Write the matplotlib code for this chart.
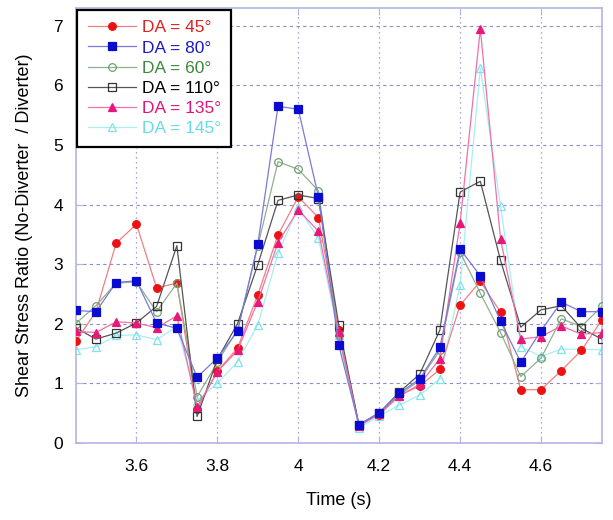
import numpy as np
import matplotlib
matplotlib.use("Agg")
import matplotlib.pyplot as plt

plt.rcParams["font.family"] = ["Liberation Sans", "DejaVu Sans"]

# time samples, 3.45 .. 4.75 s every 0.05 s
time_s = np.round(np.arange(3.45, 4.7501, 0.05), 2)

da45 = [1.70, 2.20, 3.35, 3.67, 2.60, 2.68, 0.56, 1.20, 1.59, 2.48, 3.49, 4.13, 3.78,
        1.89, 0.30, 0.47, 0.80, 0.95, 1.23, 2.31, 2.71, 2.19, 0.89, 0.89, 1.21, 1.55, 2.06]
da80 = [2.22, 2.20, 2.69, 2.72, 2.01, 1.92, 1.10, 1.42, 1.87, 3.33, 5.65, 5.60, 4.13,
        1.64, 0.30, 0.50, 0.83, 1.07, 1.60, 3.25, 2.80, 2.04, 1.35, 1.88, 2.36, 2.20, 2.20]
da60 = [2.00, 2.30, 2.68, 2.70, 2.20, 2.68, 0.77, 1.35, 1.90, 3.30, 4.72, 4.59, 4.23,
        1.80, 0.30, 0.50, 0.80, 1.05, 1.55, 3.20, 2.51, 1.85, 1.11, 1.42, 2.08, 1.95, 2.29]
da110 = [1.93, 1.74, 1.84, 2.01, 2.29, 3.31, 0.44, 1.40, 2.00, 2.99, 4.07, 4.16, 4.10,
         1.98, 0.30, 0.50, 0.85, 1.15, 1.89, 4.21, 4.39, 3.06, 1.94, 2.23, 2.30, 1.92, 1.74]
da135 = [1.87, 1.85, 2.03, 2.01, 1.93, 2.13, 0.60, 1.19, 1.55, 2.37, 3.36, 3.91, 3.55,
         1.86, 0.28, 0.48, 0.78, 0.98, 1.41, 3.69, 6.95, 3.42, 1.74, 1.78, 1.96, 1.82, 1.85]
da145 = [1.56, 1.61, 1.80, 1.81, 1.73, 1.95, 0.70, 1.00, 1.36, 1.98, 3.18, 3.95, 3.43,
         1.80, 0.25, 0.45, 0.63, 0.80, 1.07, 2.65, 6.29, 3.97, 1.61, 1.45, 1.57, 1.57, 1.56]

series = [
    ("DA = 45°", da45, "o", "#ee1111", "#ee1111", "#f08080", "#dd2222", 3),
    ("DA = 80°", da80, "s", "#0a0ad0", "#0a0ad0", "#7a7ad8", "#1a1ac8", 4),
    ("DA = 60°", da60, "o", "none", "#6f9f6f", "#8fb08f", "#3a8a3a", 3),
    ("DA = 110°", da110, "s", "none", "#333333", "#555555", "#000000", 3),
    ("DA = 135°", da135, "^", "#e8187a", "#e8187a", "#f070a8", "#e0157a", 3),
    ("DA = 145°", da145, "^", "none", "#7fe3ea", "#a8eef2", "#66dde6", 2),
]

fig = plt.figure(figsize=(6.13, 5.2), dpi=100)
ax = fig.add_axes([0.1235, 0.1487, 0.8581, 0.8359])

for label, vals, mk, mfc, mec, lc, tc, z in series:
    ax.plot(time_s, vals, color=lc, lw=0.9, marker=mk, ms=5.5, mfc=mfc, mec=mec,
            mew=0.9, label=label, zorder=z)

ax.set_xlim(3.45, 4.75)
ax.set_ylim(0, 7.3)
ax.set_xticks([3.6, 3.8, 4.0, 4.2, 4.4, 4.6])
ax.set_xticklabels(["3.6", "3.8", "4", "4.2", "4.4", "4.6"])
ax.set_yticks(range(0, 8))

ax.grid(axis="y", color="#8c8cc8", ls=(0, (3, 3)), lw=0.8)
ax.grid(axis="x", color="#8c8cc8", ls=(0, (1, 3)), lw=0.9)
ax.set_axisbelow(True)
for sp in ax.spines.values():
    sp.set_color("#b4b4e4")
    sp.set_linewidth(1.2)
ax.tick_params(direction="in", top=True, right=True, color="#b4b4e4", length=5,
               labelsize=12.5)
ax.tick_params(axis="x", pad=12)
ax.tick_params(axis="y", pad=9)

ax.set_xlabel("Time (s)", fontsize=13, labelpad=13)
ax.set_ylabel("Shear Stress Ratio (No-Diverter  / Diverter)", fontsize=13, labelpad=15)

leg = ax.legend(loc="upper left", bbox_to_anchor=(0.0, 1.0), borderaxespad=0.1,
                fontsize=12.5, handlelength=2.8, handletextpad=0.3, labelspacing=0.29,
                fancybox=False, framealpha=1, borderpad=0.6)
leg.get_frame().set_edgecolor("black")
leg.get_frame().set_linewidth(1.6)
for txt, s in zip(leg.get_texts(), series):
    txt.set_color(s[6])

fig.savefig("out.png", dpi=100)
